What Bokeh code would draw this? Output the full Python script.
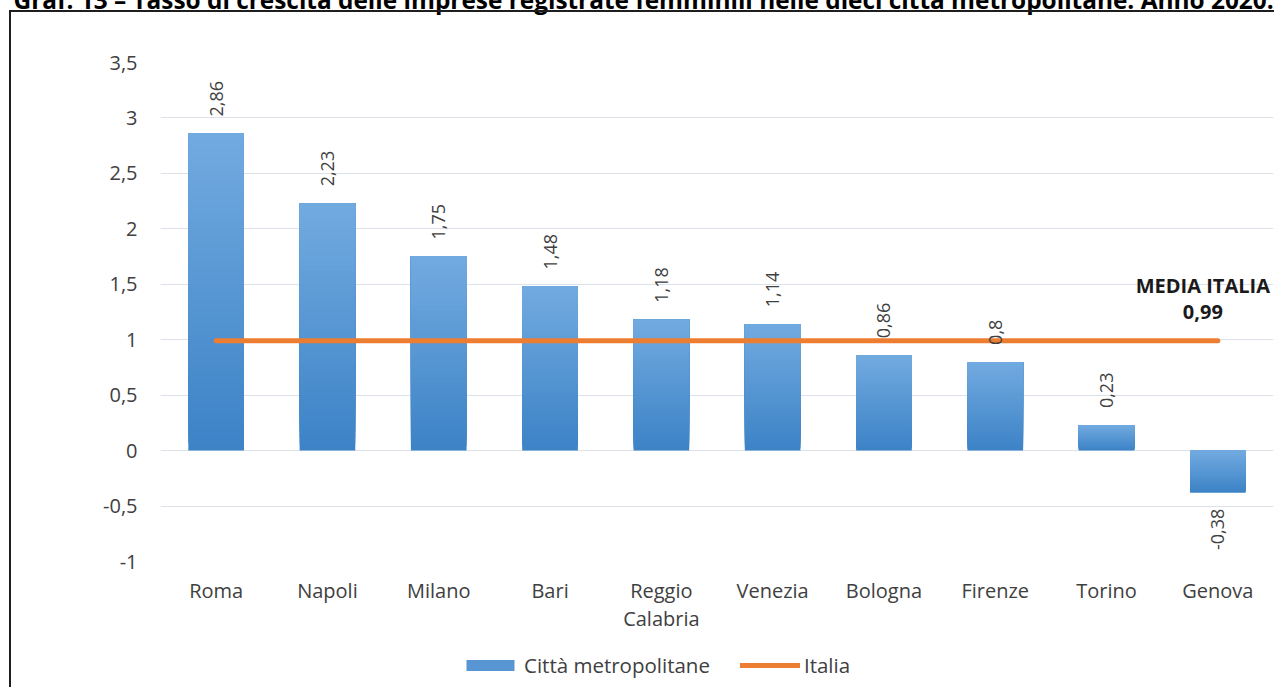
from bokeh.plotting import figure
from bokeh.layouts import column
from bokeh.models import (Range1d, FactorRange, FixedTicker, CustomJSTickFormatter, Legend,
                          LegendItem, Label, ColumnDataSource, InlineStyleSheet)
from bokeh.core.properties import value
from bokeh.embed import file_html
from bokeh.resources import INLINE

# ---------------- data ----------------
cities = ["Roma", "Napoli", "Milano", "Bari", "Reggio\nCalabria", "Venezia",
          "Bologna", "Firenze", "Torino", "Genova"]
rates = [2.86, 2.23, 1.75, 1.48, 1.18, 1.14, 0.86, 0.80, 0.23, -0.38]
rate_labels = ["2,86", "2,23", "1,75", "1,48", "1,18", "1,14", "0,86", "0,8", "0,23", "-0,38"]
italia = [0.99, 0.99, 0.99, 0.99, 0.99, 0.99, 0.99, 0.99, 0.99, 0.99]
italia_label = "0,99"
y_ticks = [-1, -0.5, 0, 0.5, 1, 1.5, 2, 2.5, 3, 3.5]
title_text = ("Graf. 13 \u2013 Tasso di crescita delle imprese registrate femminili "
              "nelle dieci citt\u00e0 metropolitane. Anno 2020.")

FONT = "Open Sans"
TXT = "#404040"
TOP_C = (0x72, 0xAA, 0xE0)
BOT_C = (0x3C, 0x83, 0xC6)
MID_C = "#5796d3"
ORANGE = "#ED7D31"
N = 40
W = 1274
H_MAIN = 646
H_LEG = 41

# gradient: overlapping slices, each from its start up to the bar top (light at top)
sx, sb, st, sc = [], [], [], []
for c, v in zip(cities, rates):
    b, t = min(0, v), max(0, v)
    for k in range(N):
        f = (k + 0.5) / N
        col = tuple(int(round(BOT_C[j] + (TOP_C[j] - BOT_C[j]) * f)) for j in range(3))
        sx.append(c)
        sb.append(b + (t - b) * k / N)
        st.append(t)
        sc.append("#%02x%02x%02x" % col)
bar_src = ColumnDataSource(dict(x=sx, bottom=sb, top=st, color=sc))

pos = [(c, v, l) for c, v, l in zip(cities, rates, rate_labels) if v >= 0]
neg = [(c, v, l) for c, v, l in zip(cities, rates, rate_labels) if v < 0]
pos_src = ColumnDataSource(dict(x=[a[0] for a in pos], y=[a[1] for a in pos], t=[a[2] for a in pos]))
neg_src = ColumnDataSource(dict(x=[a[0] for a in neg], y=[a[1] for a in neg], t=[a[2] for a in neg]))

p = figure(width=W, height=H_MAIN,
           x_range=FactorRange(factors=cities, range_padding=0),
           y_range=Range1d(-1, 3.5),
           output_backend="svg", toolbar_location=None,
           min_border=0, min_border_left=160, min_border_right=1,
           min_border_top=62, min_border_bottom=H_MAIN - 561)
p.outline_line_color = None
p.background_fill_color = "white"
p.border_fill_color = "white"

# chart border (left and top edges of the Excel chart area)
p.stylesheets = [InlineStyleSheet(css=(
    ":host::after { content: ''; position: absolute; left: 9px; top: 10px; right: 0; bottom: 0;"
    " border-left: 2px solid #1e1e1e; border-top: 2px solid #1e1e1e;"
    " pointer-events: none; z-index: 10; }"))]

# axes
p.xgrid.grid_line_color = None
p.ygrid.ticker = FixedTicker(ticks=y_ticks)
p.ygrid.grid_line_color = "#dde1e9"
p.ygrid.grid_line_width = 1

p.yaxis.ticker = FixedTicker(ticks=y_ticks)
p.yaxis.formatter = CustomJSTickFormatter(code="return tick.toString().replace('.', ',');")
for ax in (p.xaxis[0], p.yaxis[0]):
    ax.axis_line_color = None
    ax.major_tick_line_color = None
    ax.minor_tick_line_color = None
    ax.major_tick_out = 0
    ax.major_tick_in = 0
    ax.minor_tick_out = 0
    ax.major_label_text_font = FONT
    ax.major_label_text_color = TXT
p.yaxis.major_label_text_font_size = "20px"
p.yaxis.major_label_standoff = 23
p.xaxis.major_label_text_font_size = "20px"
p.xaxis.major_label_standoff = 15
p.xaxis.major_label_text_line_height = 1.05

# bars
bars = p.vbar(x="x", width=0.5, bottom="bottom", top="top", source=bar_src,
              fill_color="color", line_color=None)

# Italia average line
line = p.line(cities, italia, line_color=ORANGE, line_width=5, line_cap="round")

# data labels (rotated)
p.text(x="x", y="y", text="t", source=pos_src, angle=1.5708, text_align="left",
       text_baseline="middle", y_offset=-17, text_font=value(FONT),
       text_font_size="18px", text_color=TXT)
p.text(x="x", y="y", text="t", source=neg_src, angle=1.5708, text_align="right",
       text_baseline="middle", y_offset=16, text_font=value(FONT),
       text_font_size="18px", text_color=TXT)

# MEDIA ITALIA annotation
p.text(x=[cities[-1]], y=[italia[-1]], text=["MEDIA ITALIA"], x_offset=-15, y_offset=-55,
       text_align="center", text_baseline="middle", text_font=value(FONT),
       text_font_style="bold", text_font_size="20px", text_color="#1a1a1a")
p.text(x=[cities[-1]], y=[italia[-1]], text=[italia_label], x_offset=-15, y_offset=-29,
       text_align="center", text_baseline="middle", text_font=value(FONT),
       text_font_style="bold", text_font_size="20px", text_color="#1a1a1a")

# title (cut at the top edge in the reference), placed in the panel above the frame
p.add_layout(Label(x=-147, y=63, x_units="screen", y_units="screen", text=title_text,
                   text_font=FONT, text_font_style="bold", text_font_size="24.4px",
                   text_baseline="alphabetic", text_color="black"), "above")

# ---------------- legend strip ----------------
q = figure(width=W, height=H_LEG, x_range=Range1d(0, W), y_range=Range1d(0, H_LEG),
           output_backend="svg", toolbar_location=None, min_border=0,
           x_axis_type=None, y_axis_type=None)
q.outline_line_color = None
q.grid.visible = False
q.stylesheets = [InlineStyleSheet(css=(
    ":host::after { content: ''; position: absolute; left: 9px; top: 0; right: 0; bottom: 0;"
    " border-left: 2px solid #1e1e1e; pointer-events: none; z-index: 10; }"))]
# legend proxies (kept outside the visible range of this strip)
leg_bar = q.vbar(x=[-100], bottom=[-200], top=[-100], width=0.5, fill_color=MID_C, line_color=None)
leg_line = q.line(x=[-200, -100], y=[-100, -100], line_color=ORANGE, line_width=5, line_cap="round")
legend = Legend(items=[LegendItem(label="Città metropolitane", renderers=[leg_bar]),
                       LegendItem(label="Italia", renderers=[leg_line])],
                orientation="horizontal", location=(300, 8),
                glyph_width=60, glyph_height=14, spacing=30, label_standoff=4,
                padding=0, margin=0, border_line_alpha=0, background_fill_alpha=0,
                label_text_font=FONT, label_text_font_size="20.5px", label_text_color=TXT)
q.add_layout(legend)

layout = column(p, q, spacing=0)
open("out.html", "w").write(file_html(layout, INLINE))
